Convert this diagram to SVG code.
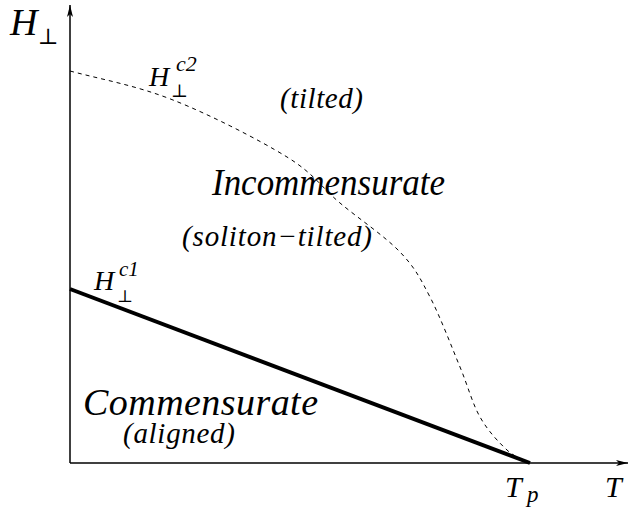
<svg xmlns="http://www.w3.org/2000/svg" width="636" height="512" viewBox="0 0 636 512">
<defs>
<marker id="arr" viewBox="0 0 12 6" refX="12" refY="3" markerWidth="12" markerHeight="6" markerUnits="userSpaceOnUse" orient="auto">
<path d="M0,0 L12,3 L0,6 L3,3 Z" fill="#000"/>
</marker>
</defs>
<rect width="636" height="512" fill="#fff"/>
<g id="connectors" fill="none" stroke="#000">
<line x1="70" y1="463" x2="70" y2="5" stroke-width="1.5" marker-end="url(#arr)"/>
<line x1="70" y1="463" x2="628" y2="463" stroke-width="1.5" marker-end="url(#arr)"/>
<line x1="70" y1="289" x2="530" y2="463" stroke-width="4"/>
<path d="M70,71 C104,80 136.8,85.7 173,100 C209.2,114.3 259.2,139.8 287,157 C314.8,174.2 321.2,187.2 340,203 C358.8,218.8 385,236.3 400,252 C415,267.7 420,277.8 430,297 C440,316.2 451.7,347 460,367 C468.3,387 472.2,403.2 480,417 C487.8,430.8 498.7,442.3 507,450 C515.3,457.7 522.3,458.7 530,463" stroke-width="1" stroke-dasharray="4,4"/>
</g>
<g font-family="Liberation Serif, serif" font-style="italic" fill="#000">
<g id="axis-H">
<text x="10" y="35" font-size="38">H</text>
<text x="38" y="44" font-size="22" font-style="normal" font-family="DejaVu Serif, serif">⊥</text>
</g>
<g id="Hc2">
<text x="149" y="86" font-size="28">H</text>
<text x="176" y="71" font-size="22">c2</text>
<text x="171" y="97" font-size="18" font-style="normal" font-family="DejaVu Serif, serif">⊥</text>
</g>
<g id="Hc1">
<text x="94" y="290" font-size="28">H</text>
<text x="119" y="276" font-size="21">c1</text>
<text x="117" y="302" font-size="17" font-style="normal" font-family="DejaVu Serif, serif">⊥</text>
</g>
<g id="tilted"><text x="280" y="108" font-size="29" textLength="83" lengthAdjust="spacing">(tilted)</text></g>
<g id="incommensurate"><text x="212" y="195" font-size="38" textLength="233" lengthAdjust="spacingAndGlyphs">Incommensurate</text></g>
<g id="soliton"><text x="182" y="246" font-size="29" textLength="190" lengthAdjust="spacing">(soliton−tilted)</text></g>
<g id="commensurate"><text x="83" y="415" font-size="38" textLength="235" lengthAdjust="spacing">Commensurate</text></g>
<g id="aligned"><text x="123" y="443" font-size="29" textLength="112" lengthAdjust="spacing">(aligned)</text></g>
<g id="Tp">
<text x="505" y="497" font-size="30">T</text>
<text x="527" y="502" font-size="23">p</text>
</g>
<g id="T"><text x="605" y="497" font-size="30">T</text></g>
</g>
</svg>
